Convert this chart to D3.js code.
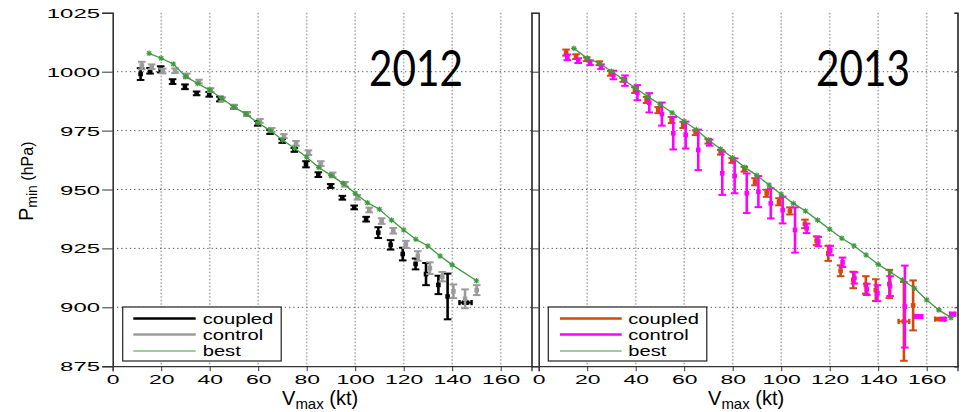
<!DOCTYPE html>
<html><head><meta charset="utf-8">
<script src="https://cdn.jsdelivr.net/npm/d3@7/dist/d3.min.js"></script>
<style>html,body{margin:0;padding:0;background:#fff;} svg{display:block;font-family:"Liberation Sans",Arial,sans-serif;}</style>
</head><body><div id="chart"></div>
<script>
const xTicks=[0,20,40,60,80,100,120,140,160];
const yTicks=[875,900,925,950,975,1000,1025];
const yearLabels=["2012","2013"];
const seriesNames=["coupled","control","best"];

// ---- 2012 ----
const coupled2012V=[11.5,15.4,19.8,24.7,29.8,34.6,39.8,44.2,50,55.3,59.8,64.9,69.9,74.9,79.7,84.8,89.9,94.7,99.6,104.5,109.5,114.6,119.6,124.9,129.2,134.3,138.1,145.5];
const coupled2012P=[999,1000.4,1001,995.8,993.6,990.8,990.4,988.4,985.1,982,978.1,974.4,970.6,966.8,960.7,956.3,951.5,946.5,942.4,937.4,931.7,926.5,922.6,918.4,914.1,909.5,904.6,902];
const coupled2012E=[2.5,1.2,1.3,1,1,0.8,1,1,0.8,0.8,1,0.8,0.8,0.8,1.3,1,0.8,0.8,0.8,1,2.3,2,2.7,2.3,4.7,3.9,9.7,0.5];
const coupled2012XE=[0,0,0,0,0,0,0,0,0,0,0,0,0,0,0,0,0,0,0,0,0,0,0,0,0,0,0,2.5];
const control2012V=[12,16.1,20.6,25.7,30.5,35.6,40.4,45.2,50.1,55.3,60.7,65.6,70.6,75.6,80.7,85.8,90.7,95.8,100.9,105.8,110.9,115.7,120.9,125.8,130.8,135.9,140.5,145.3,150.1];
const control2012P=[1002.6,1002.1,1000.3,1000.4,998.2,995.8,992.2,988.3,985.1,982,979.1,975.3,972.7,969.6,965.6,961,956.2,952.2,946.7,941.3,936.6,932.5,926.7,921.8,916.6,913,906.8,903.6,907.3];
const control2012E=[1.6,1,1,1,1,0.8,0.8,0.8,0.8,0.8,0.8,0.8,0.8,1,1,1,1,1,1,1,1.2,1.2,1.5,2,2.5,2,2.9,4,2.1];
const best2012V=[15,20,25,30,35,40,45,50,55,60,65,70,75,80,85,90,95,100,105,110,115,120,125,130,135,140,150];
const best2012P=[1007.8,1005.7,1003.3,998,995,992.2,988.6,985,982,978.2,975,971,967.5,963.7,959.3,956,952.6,948.4,944.4,941.6,937,932.8,928.9,926,921.8,918,911.3];

// ---- 2013 ----
const coupled2013V=[11.3,15.4,19.8,25,29.7,34.9,39.7,44.5,49.3,54.8,59.6,64.7,69.9,75.1,79.8,84.8,89.2,94,99.1,103.6,109.8,114.6,119.4,124.5,129.7,134.9,139,144.6,150.6,154.4,165.5];
const coupled2013P=[1008.1,1006.4,1005.3,1003.6,999.3,996.5,992.2,988,983.7,979.5,977.4,974.1,970.5,965.8,962.3,958.6,953.3,948.4,944.8,940.9,935.4,928.3,922.9,915.5,911.6,909.5,907.3,909.9,894,900.8,895];
const coupled2013E=[1.3,1,0.8,0.8,1,0.8,1.2,1.3,1.3,1.3,1.3,1,1,1,1,1,1.5,1.5,1.5,1.5,1.8,1.8,3.2,2.3,3.5,3.7,4.6,6,16.7,10.6,0.5];
const coupled2013XE=[0,0,0,0,0,0,0,0,0,0,0,0,0,0,0,0,0,0,0,0,0,0,0,0,0,0,0,0,2.2,0,2];
const control2013V=[11.8,16.3,21.2,25.7,30.8,35.6,40.7,45.6,50.8,55.5,60.6,65.8,70.5,75.7,80.8,85.8,90.6,95.7,100.6,105.7,110.5,115.3,120.2,125.3,130.2,135.3,139.7,144.9,151,156.7,167,170.7];
const control2013P=[1006.1,1004.7,1003.8,1002.1,998.6,996.2,991.1,986.8,982,973.9,973.1,966.8,969.9,956.9,955.8,948.4,949.1,944.1,941.3,932.8,933.5,927.9,924.1,919.1,912.5,907.6,906,909,900.3,896.1,895,897.1];
const control2013E=[1.2,1,1,1,1.8,2.2,3.2,4.1,4.9,6.9,5.7,8.6,1.3,9.2,7.4,8.4,6.6,6.4,5.7,9.6,2,2,2,2,2.4,2.4,3.4,4.2,17.4,0.6,0.5,0.6];
const control2013XE=[0,0,0,0,0,0,0,0,0,0,0,0,0,0,0,0,0,0,0,0,0,0,0,0,0,0,0,0,0,1.5,0,1];
const best2013V=[14.5,20,25,30,35,40,45,50,55,60,65,70,75,80,85,90,95,100,105,110,115,120,125,130,135,140,145,150,155,160,165,170];
const best2013P=[1009.9,1005.7,1003.6,1000.2,996.6,993,989.4,986.2,982.6,979,975.4,971,967.2,963.5,959.4,956,951.9,948,944.1,940.9,937,933.1,929.3,926.1,922.2,918.2,915,911.6,908.1,903.1,898.9,895.6];

const W=961,H=412;
const svg=d3.select("#chart").append("svg").attr("width",W).attr("height",H);

const panels=[
  {year:yearLabels[0],x0:112.7,x1:531.5,cols:["#000000","#9b9b9b","#3d9a3d"],
   coupled:[coupled2012V,coupled2012P,coupled2012E,coupled2012XE],control:[control2012V,control2012P,control2012E,null],best:[best2012V,best2012P],
   yearX:369,legX:122.7},
  {year:yearLabels[1],x0:538.7,x1:957.5,cols:["#d4470e","#ff00ff","#3d9a3d"],
   coupled:[coupled2013V,coupled2013P,coupled2013E,coupled2013XE],control:[control2013V,control2013P,control2013E,control2013XE],best:[best2013V,best2013P],
   yearX:816,legX:548.3}
];
const yTop=12.8,yBot=366.2;
const y=d3.scaleLinear().domain([875,1025]).range([yBot,yTop]);

function errorBars(g,x,V,P,E,XE,color){
  const cap=3.8;
  V.forEach((v,i)=>{
    const cx=x(v),cy=y(P[i]),e=E[i],xe=XE?XE[i]:0;
    const gg=g.append("g").attr("stroke",color).attr("fill",color);
    gg.append("line").attr("x1",cx).attr("x2",cx).attr("y1",y(P[i]+e)).attr("y2",y(P[i]-e)).attr("stroke-width",2.6);
    [P[i]+e,P[i]-e].forEach(pp=>gg.append("line").attr("x1",cx-cap).attr("x2",cx+cap).attr("y1",y(pp)).attr("y2",y(pp)).attr("stroke-width",2));
    if(xe>0){
      gg.append("line").attr("x1",x(v-xe)).attr("x2",x(v+xe)).attr("y1",cy).attr("y2",cy).attr("stroke-width",2);
      [v-xe,v+xe].forEach(vv=>gg.append("line").attr("x1",x(vv)).attr("x2",x(vv)).attr("y1",cy-2.6).attr("y2",cy+2.6).attr("stroke-width",2.4));
    }
    gg.append("rect").attr("x",cx-2.3).attr("y",cy-2.3).attr("width",4.6).attr("height",4.6).attr("stroke","none");
  });
}

panels.forEach((pn,pi)=>{
  const x=d3.scaleLinear().domain([0,172.7]).range([pn.x0,pn.x1]);
  const g=svg.append("g");
  // grid
  g.append("g").selectAll("line").data(xTicks.filter(t=>t>0)).join("line")
    .attr("x1",d=>x(d)).attr("x2",d=>x(d)).attr("y1",yTop).attr("y2",yBot)
    .attr("stroke","#a9a9a9").attr("stroke-width",1.6).attr("stroke-dasharray","1.5 2");
  g.append("g").selectAll("line").data(yTicks.filter(t=>t>875&&t<1025)).join("line")
    .attr("x1",pn.x0).attr("x2",pn.x1).attr("y1",d=>y(d)).attr("y2",d=>y(d))
    .attr("stroke","#555").attr("stroke-width",1).attr("stroke-dasharray","1.3 3");
  // axes
  const xa=g.append("g").attr("transform",`translate(0,${yBot})`)
    .call(d3.axisBottom(x).tickValues(xTicks).tickSize(5).tickFormat(d3.format("d")));
  xa.select(".domain").attr("stroke","#333").attr("stroke-width",1.3);
  xa.selectAll(".tick line").attr("stroke","#333");
  xa.selectAll("text").attr("y",18.3).attr("dy",0).attr("font-size",12.2).attr("fill","#000")
    .attr("font-family","Liberation Sans, Arial, sans-serif")
    .attr("transform","scale(1.88,1)")
    .attr("x",0);
  const ya=g.append("g").attr("transform",`translate(${pn.x0},0)`)
    .call(d3.axisLeft(y).tickValues(yTicks).tickSize(pi===0?10.5:7.5).tickFormat(d3.format("d")));
  ya.select(".domain").attr("stroke","#333").attr("stroke-width",1.6);
  ya.selectAll(".tick line").attr("stroke","#333");
  if(pi===0){
    ya.selectAll("text").attr("x",-12.7/1.9).attr("dy","0.36em").attr("font-size",12.6).attr("fill","#000")
      .attr("font-family","Liberation Sans, Arial, sans-serif").attr("transform","scale(1.9,1)");
  } else {
    ya.selectAll("text").remove();
  }
  // right border
  const ra=g.append("g").attr("transform",`translate(${pn.x1},0)`)
    .call(d3.axisRight(y).tickValues(yTicks).tickSize(pi===0?0:-3).tickFormat(""));
  ra.select(".domain").attr("stroke","#222").attr("stroke-width",1.6);
  ra.selectAll(".tick line").attr("stroke","#333");

  // data
  const dg=g.append("g");
  errorBars(dg,x,pn.coupled[0],pn.coupled[1],pn.coupled[2],pn.coupled[3],pn.cols[0]);
  errorBars(dg,x,pn.control[0],pn.control[1],pn.control[2],pn.control[3],pn.cols[1]);
  const bestPts=pn.best[0].map((v,i)=>[v,pn.best[1][i]]);
  dg.append("path").datum(bestPts).attr("fill","none").attr("stroke",pn.cols[2]).attr("stroke-width",1.3)
    .attr("d",d3.line().x(d=>x(d[0])).y(d=>y(d[1])));
  const mk=dg.append("g").attr("stroke",pn.cols[2]).attr("stroke-width",1.1);
  bestPts.forEach(d=>{
    const cx=x(d[0]),cy=y(d[1]),s=2.8;
    mk.append("path").attr("d",`M${cx-s},${cy}H${cx+s}M${cx},${cy-s}V${cy+s}M${cx-s*0.75},${cy-s*0.75}L${cx+s*0.75},${cy+s*0.75}M${cx-s*0.75},${cy+s*0.75}L${cx+s*0.75},${cy-s*0.75}`);
  });

  // year label
  svg.append("text").attr("x",pn.yearX).attr("y",86).attr("font-size",50).attr("font-family","Lato, 'Open Sans', sans-serif")
    .attr("textLength",94).attr("lengthAdjust","spacingAndGlyphs").attr("fill","#000").text(pn.year);

  // x label
  const xl=svg.append("text").attr("x",(pn.x0+pn.x1)/2-2).attr("y",405).attr("text-anchor","middle").attr("font-size",20).attr("fill","#000");
  xl.append("tspan").text("V");
  xl.append("tspan").attr("font-size",15).attr("dy",4).text("max");
  xl.append("tspan").attr("dy",-4).text(" (kt)");

  // legend
  const lx=pn.legX, lg=svg.append("g");
  lg.append("rect").attr("x",lx).attr("y",307).attr("width",158.5).attr("height",54).attr("fill","#fff").attr("stroke","#222").attr("stroke-width",1.2);
  const rowsY=[318.5,334.5,351];
  seriesNames.forEach((nm,i)=>{
    lg.append("line").attr("x1",lx+(pi===0?10.6:11.7)).attr("x2",lx+(pi===0?73:73.4)).attr("y1",rowsY[i]).attr("y2",rowsY[i])
      .attr("stroke",pn.cols[i]).attr("stroke-width",i<2?2.6:1.2);
    lg.append("text").attr("transform",`translate(${lx+80},${rowsY[i]+5}) scale(1.39,1)`).attr("font-size",14.5).attr("fill","#000").text(nm);
  });
});

// y label
const yl=svg.append("text").attr("transform","translate(33,221) rotate(-90)").attr("font-size",20).attr("fill","#000");
yl.append("tspan").text("P");
yl.append("tspan").attr("font-size",14).attr("dy",4).text("min");
yl.append("tspan").attr("dy",-4).attr("font-size",16).text(" (hPa)");
</script></body></html>
